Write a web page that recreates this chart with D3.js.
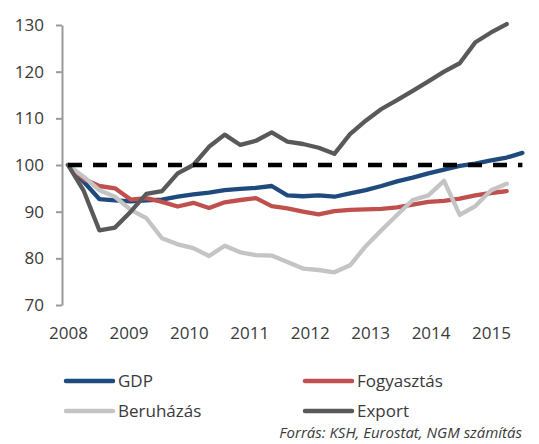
<!DOCTYPE html>
<html>
<head>
<meta charset="utf-8">
<script src="https://cdn.jsdelivr.net/npm/d3@7"></script>
<style>
  html, body { margin: 0; padding: 0; background: #fff; }
  svg { display: block; }
  text { font-family: "Open Sans", "Noto Sans", sans-serif; fill: #3a3a3a; }
</style>
</head>
<body>
<svg id="chart" width="539" height="444"></svg>
<script>
// ---- data ----
const quarters = ["2008Q1","2008Q2","2008Q3","2008Q4","2009Q1","2009Q2","2009Q3","2009Q4",
  "2010Q1","2010Q2","2010Q3","2010Q4","2011Q1","2011Q2","2011Q3","2011Q4",
  "2012Q1","2012Q2","2012Q3","2012Q4","2013Q1","2013Q2","2013Q3","2013Q4",
  "2014Q1","2014Q2","2014Q3","2014Q4","2015Q1","2015Q2"];
const gdp = [100, 96.4, 92.7, 92.4, 92.2, 92.4, 92.6, 93.2, 93.7, 94.1, 94.6, 94.9, 95.1, 95.5,
  93.5, 93.3, 93.5, 93.2, 93.9, 94.6, 95.5, 96.5, 97.3, 98.2, 99.0, 99.8, 100.3, 101.0, 101.6, 102.6];
const fogyasztas = [100, 97.0, 95.5, 95.0, 92.6, 92.9, 92.1, 91.1, 91.9, 90.8, 92.0, 92.5, 92.9, 91.2,
  90.7, 90.0, 89.4, 90.1, 90.4, 90.5, 90.6, 90.9, 91.5, 92.1, 92.3, 92.8, 93.5, 94.0, 94.4];
const beruhazas = [100, 97.5, 94.6, 93.2, 90.4, 88.6, 84.3, 83.0, 82.2, 80.5, 82.7, 81.3, 80.7, 80.6,
  79.2, 77.8, 77.5, 77.0, 78.5, 82.6, 86.0, 89.3, 92.5, 93.5, 96.6, 89.3, 91.2, 94.6, 96.0];
const exportData = [100, 94.5, 86.0, 86.6, 90.0, 93.8, 94.4, 98.2, 100.0, 103.9, 106.5, 104.3, 105.2, 107.0,
  105.0, 104.5, 103.7, 102.4, 106.6, 109.5, 112.0, 113.9, 115.9, 117.9, 120.0, 121.8, 126.3, 128.4, 130.2];
const baseline = quarters.map(() => 100);
const yearLabels = [2008, 2009, 2010, 2011, 2012, 2013, 2014, 2015];
const yTicks = [70, 80, 90, 100, 110, 120, 130];
const seriesNames = ["GDP", "Fogyasztás", "Beruházás", "Export"];
const sourceText = "Forrás: KSH, Eurostat, NGM számítás";

// ---- layout ----
const svg = d3.select("#chart");
const colors = { "GDP": "#1f4a7e", "Fogyasztás": "#c0504d", "Beruházás": "#c4c4c4", "Export": "#595959" };
const seriesData = { "GDP": gdp, "Fogyasztás": fogyasztas, "Beruházás": beruhazas, "Export": exportData };

const x = d3.scalePoint().domain(quarters).range([68, 522.4]);
const xYear = d3.scaleLinear().domain([2008, 2015]).range([68, 491]);
const y = d3.scaleLinear().domain([70, 130]).range([305, 25]);

// y axis
const yAxis = svg.append("g").attr("transform", "translate(62,0)")
  .call(d3.axisLeft(y).tickValues(yTicks).tickSize(6).tickSizeOuter(0).tickPadding(12));
yAxis.select(".domain").attr("stroke", "#9a9a9a").attr("stroke-width", 2);
yAxis.selectAll(".tick line").attr("stroke", "#9a9a9a").attr("stroke-width", 2);
yAxis.selectAll(".tick text").style("font-size", "17px").attr("fill", "#3a3a3a")
  .style("font-family", '"Open Sans", sans-serif');

// x axis labels (no line)
const xAxis = svg.append("g").attr("transform", "translate(0,327)")
  .call(d3.axisBottom(xYear).tickValues(yearLabels).tickFormat(d3.format("d")).tickSize(0).tickPadding(0));
xAxis.select(".domain").remove();
xAxis.selectAll(".tick text").style("font-size", "17px").attr("fill", "#3a3a3a")
  .style("font-family", '"Open Sans", sans-serif');

// lines
const line = d3.line()
  .x((d, i) => x(quarters[i]))
  .y(d => y(d));

seriesNames.forEach(name => {
  svg.append("path")
    .datum(seriesData[name])
    .attr("fill", "none")
    .attr("stroke", colors[name])
    .attr("stroke-width", 4.3)
    .attr("stroke-linejoin", "round")
    .attr("stroke-linecap", "round")
    .attr("d", line);
});

// dashed 100 line
svg.append("path")
  .datum(baseline)
  .attr("fill", "none")
  .attr("stroke", "#000")
  .attr("stroke-width", 4.5)
  .attr("stroke-dasharray", "14,11")
  .attr("d", line);

// legend
const legendPos = [
  { name: "GDP", lx: 66, ly: 381 },
  { name: "Fogyasztás", lx: 305, ly: 381 },
  { name: "Beruházás", lx: 66, ly: 411 },
  { name: "Export", lx: 305, ly: 411 }
];
const lg = svg.append("g");
legendPos.forEach(p => {
  lg.append("line")
    .attr("x1", p.lx).attr("x2", p.lx + 47)
    .attr("y1", p.ly).attr("y2", p.ly)
    .attr("stroke", colors[p.name]).attr("stroke-width", 4.5)
    .attr("stroke-linecap", "round");
  lg.append("text")
    .attr("x", p.lx + 52).attr("y", p.ly + 6)
    .style("font-size", "17px")
    .text(p.name);
});

// source
svg.append("text")
  .attr("x", 522).attr("y", 438)
  .attr("text-anchor", "end")
  .style("font-size", "15px")
  .style("font-style", "italic")
  .text(sourceText);
</script>
</body>
</html>
